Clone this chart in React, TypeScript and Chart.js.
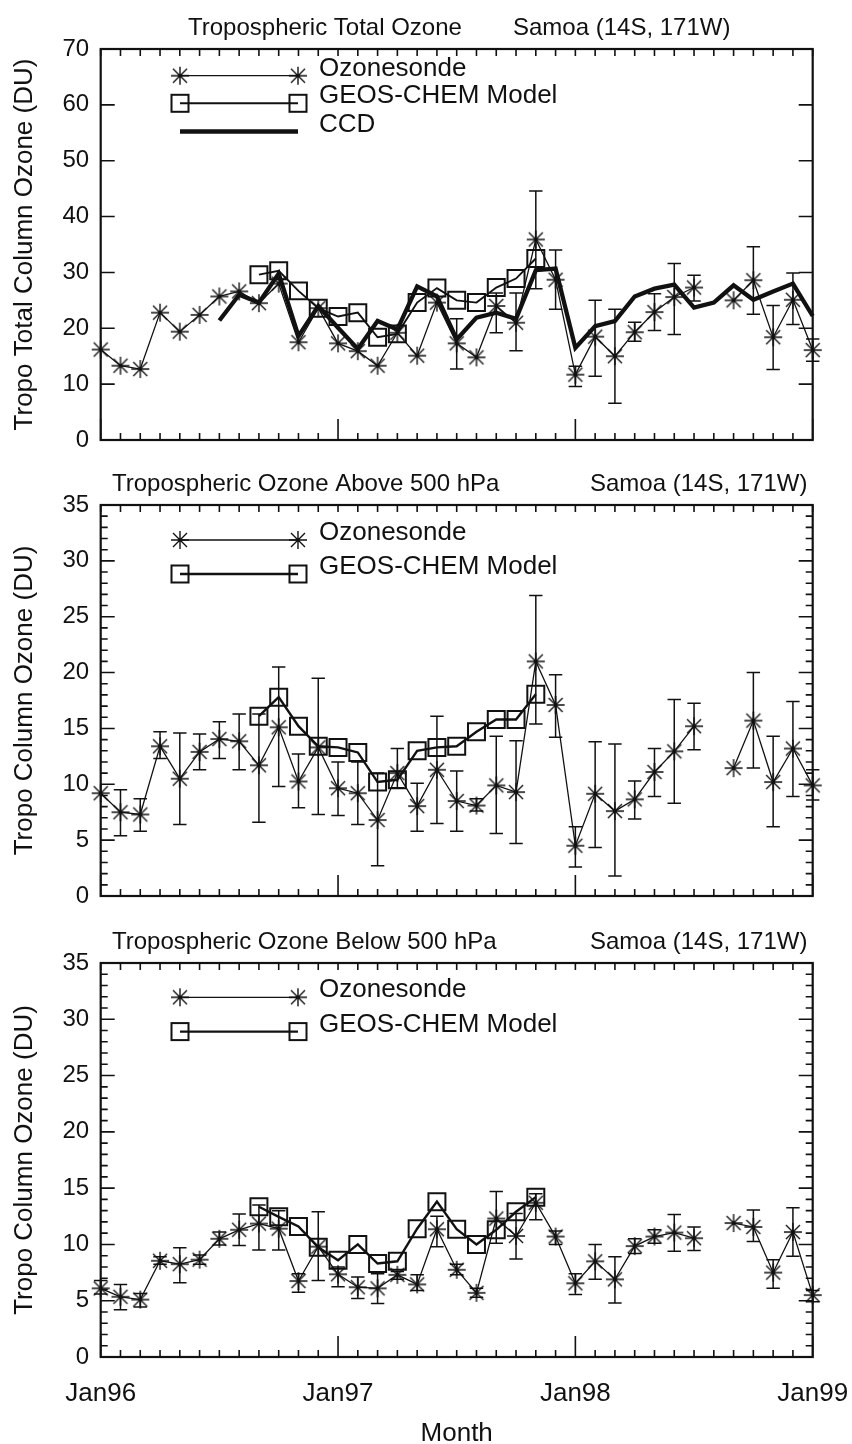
import { useEffect, useRef } from 'react';
import { Chart, registerables } from 'chart.js';

Chart.register(...registerables);

const INK = '#111111';
const FONT = '"Liberation Sans", Arial, Helvetica, sans-serif';

// ---------------- categories & tick labels ----------------
const monthLabels = [
  'Jan96', 'Feb96', 'Mar96', 'Apr96', 'May96', 'Jun96', 'Jul96', 'Aug96', 'Sep96', 'Oct96', 'Nov96', 'Dec96',
  'Jan97', 'Feb97', 'Mar97', 'Apr97', 'May97', 'Jun97', 'Jul97', 'Aug97', 'Sep97', 'Oct97', 'Nov97', 'Dec97',
  'Jan98', 'Feb98', 'Mar98', 'Apr98', 'May98', 'Jun98', 'Jul98', 'Aug98', 'Sep98', 'Oct98', 'Nov98', 'Dec98',
  'Jan99',
];
const xTickLabels = ['Jan96', 'Jan97', 'Jan98', 'Jan99'];
const totalYTicks = [0, 10, 20, 30, 40, 50, 60, 70];
const partYTicks = [0, 5, 10, 15, 20, 25, 30, 35];

// ---------------- panel 1: tropospheric total ozone ----------------
const totalSonde = [16.2, 13.3, 12.7, 22.8, 19.4, 22.4, 25.7, 26.6, 24.5, 28.0, 17.5, 23.6, 17.3, 15.9, 13.3, 19.2, 15.1, 24.6, 17.3, 14.8, 24.0, 21.0, 35.9, 28.7, 11.7, 18.5, 15.0, 19.3, 22.9, 25.6, 27.3, null, 25.0, 28.6, 18.4, 25.1, 16.1];
const totalSondeLow = [null, null, null, null, null, null, null, null, null, null, null, null, null, null, null, null, null, null, 12.7, null, 19.2, 16.0, 27.1, 23.4, 9.6, 11.4, 6.6, 17.7, 19.6, 18.9, 24.9, null, null, 22.5, 12.6, 20.7, 14.1];
const totalSondeHigh = [null, null, null, null, null, null, null, null, null, null, null, null, null, null, null, null, null, null, 21.7, null, 26.3, 26.3, 44.6, 34.0, 13.2, 25.0, 23.4, 21.1, 26.2, 31.6, 29.5, null, null, 34.6, 24.1, 29.9, 18.1];
const totalModel = [null, null, null, null, null, null, null, null, 29.6, 30.3, 26.7, 23.6, 22.1, 22.8, 18.4, 19.0, 24.6, 27.2, 25.0, 24.6, 27.3, 28.9, 32.5, null, null, null, null, null, null, null, null, null, null, null, null, null, null];
const totalCCD = [null, null, null, null, null, null, 21.4, 26.0, 24.6, 29.8, 18.6, 24.0, 20.1, 16.3, 21.3, 19.8, 27.5, 25.7, 18.0, 21.9, 22.8, 21.7, 30.4, 30.7, 16.5, 20.4, 21.3, 25.7, 27.1, 27.8, 23.7, 24.6, 27.7, 25.1, 26.6, 28.0, 22.2];

// ---------------- panel 2: above 500 hPa ----------------
const upperSonde = [9.2, 7.5, 7.3, 13.4, 10.5, 12.9, 14.05, 13.85, 11.7, 15.1, 10.25, 13.3, 9.65, 9.2, 6.8, 11.0, 8.05, 11.3, 8.5, 8.1, 9.9, 9.3, 21.0, 17.1, 4.5, 9.15, 7.6, 8.65, 11.1, 12.95, 15.2, null, 11.45, 15.7, 10.2, 13.2, 9.9];
const upperSondeLow = [null, 5.4, 5.8, 12.3, 6.4, 11.3, 12.3, 11.3, 6.6, 9.8, 7.9, 7.3, 7.2, 6.4, 2.7, 9.7, 5.8, 6.5, 5.8, 7.6, 5.6, 4.7, 15.4, 14.2, 2.6, 4.35, 1.8, 6.9, 8.9, 8.3, 13.1, null, null, 11.45, 6.2, 8.9, 8.6];
const upperSondeHigh = [null, 9.5, 8.7, 14.7, 14.6, 14.5, 15.6, 16.3, 16.3, 20.5, 12.7, 19.5, 12.0, 12.0, 11.0, 13.2, 10.1, 16.1, 11.2, 8.7, 14.3, 13.9, 26.9, 19.8, 6.2, 13.8, 13.6, 10.3, 13.2, 17.6, 17.25, null, null, 20.0, 14.3, 17.4, 11.3];
const upperModel = [null, null, null, null, null, null, null, null, 16.1, 17.8, 15.2, 13.4, 13.3, 12.85, 10.2, 10.4, 13.0, 13.3, 13.4, 14.7, 15.8, 15.8, 18.05, null, null, null, null, null, null, null, null, null, null, null, null, null, null];

// ---------------- panel 3: below 500 hPa ----------------
const lowerSonde = [6.1, 5.35, 5.1, 8.55, 8.25, 8.65, 10.5, 11.3, 11.85, 11.4, 6.75, 9.8, 7.35, 6.2, 6.1, 7.3, 6.45, 11.35, 7.75, 5.7, 12.3, 10.75, 13.7, 10.7, 6.55, 8.5, 6.9, 9.85, 10.7, 11.05, 10.55, null, 11.9, 11.55, 7.5, 11.1, 5.5];
const lowerSondeLow = [5.6, 4.2, 4.45, 8.25, 6.6, 8.25, 9.95, 9.9, 9.5, 9.5, 5.75, 6.8, 6.25, 5.2, 4.75, 6.9, 5.9, 9.8, 7.3, 5.3, 10.1, 8.7, 12.2, 10.0, 5.55, 6.9, 4.8, 9.2, 10.1, 9.4, 9.45, null, null, 10.25, 6.1, 8.95, 4.9];
const lowerSondeHigh = [6.8, 6.45, 5.65, 8.9, 9.7, 9.05, 11.1, 12.7, 13.5, 13.0, 7.4, 12.9, 8.0, 7.1, 7.4, 7.6, 7.3, 12.5, 8.25, 6.1, 14.7, 12.75, 14.5, 11.2, 7.4, 10.0, 8.9, 10.5, 11.3, 12.65, 11.55, null, null, 13.05, 8.65, 13.25, 5.9];
const lowerModel = [null, null, null, null, null, null, null, null, 13.35, 12.45, 11.6, 9.75, 8.6, 10.0, 8.3, 8.5, 11.4, 13.8, 11.35, 10.0, 11.3, 12.9, 14.2, null, null, null, null, null, null, null, null, null, null, null, null, null, null];

// ---------------- layout (pixels) ----------------
const W = 852;
const PLOT_LEFT = 100.7;
const PLOT_RIGHT = 812.7;
const LEG_X1 = 180;
const LEG_X2 = 298;
const LEG_TEXT_X = 319;
const CAP = 6.7;
const SONDE_W = 1.3;
const CCD_W = 4.3;

type Series = (number | null)[];
interface LegendRow { kind: 'sonde' | 'model' | 'ccd'; label: string; y: number }
interface PanelSpec {
  top: number; height: number; areaTop: number; areaBottom: number; xAxisHeight: number;
  yTicks: number[]; yMinorStep: number; yTitle: string;
  titleLeft: string; titleLeftX: number; titleRight: string; titleRightX: number; titleBaseline: number;
  sonde: Series; low: Series; high: Series; model: Series; ccd: Series | null;
  legend: LegendRow[]; showX: boolean; modelWidth: number;
}

const PANELS: PanelSpec[] = [
  {
    top: 0, height: 460, areaTop: 49, areaBottom: 440, xAxisHeight: 0,
    yTicks: totalYTicks, yMinorStep: 0, yTitle: 'Tropo Total Column Ozone (DU)',
    titleLeft: 'Tropospheric Total Ozone', titleLeftX: 188, titleRight: 'Samoa (14S, 171W)', titleRightX: 513, titleBaseline: 35,
    sonde: totalSonde, low: totalSondeLow, high: totalSondeHigh, model: totalModel, ccd: totalCCD,
    legend: [
      { kind: 'sonde', label: 'Ozonesonde', y: 75.7 },
      { kind: 'model', label: 'GEOS-CHEM Model', y: 103.3 },
      { kind: 'ccd', label: 'CCD', y: 131.5 },
    ],
    showX: false, modelWidth: 1.9,
  },
  {
    top: 460, height: 450, areaTop: 45, areaBottom: 438, xAxisHeight: 0,
    yTicks: partYTicks, yMinorStep: 1, yTitle: 'Tropo Column Ozone (DU)',
    titleLeft: 'Tropospheric Ozone Above 500 hPa', titleLeftX: 112, titleRight: 'Samoa (14S, 171W)', titleRightX: 590, titleBaseline: 31,
    sonde: upperSonde, low: upperSondeLow, high: upperSondeHigh, model: upperModel, ccd: null,
    legend: [
      { kind: 'sonde', label: 'Ozonesonde', y: 80 },
      { kind: 'model', label: 'GEOS-CHEM Model', y: 114 },
    ],
    showX: false, modelWidth: 2.4,
  },
  {
    top: 910, height: 534, areaTop: 53, areaBottom: 447, xAxisHeight: 87,
    yTicks: partYTicks, yMinorStep: 1, yTitle: 'Tropo Column Ozone (DU)',
    titleLeft: 'Tropospheric Ozone Below 500 hPa', titleLeftX: 112, titleRight: 'Samoa (14S, 171W)', titleRightX: 590, titleBaseline: 39,
    sonde: lowerSonde, low: lowerSondeLow, high: lowerSondeHigh, model: lowerModel, ccd: null,
    legend: [
      { kind: 'sonde', label: 'Ozonesonde', y: 87.3 },
      { kind: 'model', label: 'GEOS-CHEM Model', y: 121.6 },
    ],
    showX: true, modelWidth: 2.4,
  },
];

function makeAsterisk(): HTMLCanvasElement {
  const s = 20;
  const c = document.createElement('canvas');
  c.width = s; c.height = s;
  const g = c.getContext('2d')!;
  g.strokeStyle = INK;
  g.lineWidth = 1.4;
  const lo = 1, hi = s - 1, m = s / 2;
  g.beginPath();
  g.moveTo(lo, m); g.lineTo(hi, m);
  g.moveTo(m, lo); g.lineTo(m, hi);
  g.moveTo(lo + 2, lo + 2); g.lineTo(hi - 2, hi - 2);
  g.moveTo(hi - 2, lo + 2); g.lineTo(lo + 2, hi - 2);
  g.stroke();
  return c;
}

function decorPlugin(p: PanelSpec, star: HTMLCanvasElement) {
  return {
    id: 'panelDecor',
    beforeDatasetsDraw(chart: any) {
      const { ctx } = chart;
      const xs = chart.scales.x;
      const ys = chart.scales.y;
      ctx.save();
      ctx.strokeStyle = INK;
      ctx.lineWidth = 1.5;
      ctx.beginPath();
      p.low.forEach((lo, i) => {
        const hi = p.high[i];
        if (lo == null || hi == null) return;
        const px = xs.getPixelForValue(i);
        const a = ys.getPixelForValue(lo);
        const b = ys.getPixelForValue(hi);
        ctx.moveTo(px, a); ctx.lineTo(px, b);
        ctx.moveTo(px - CAP, a); ctx.lineTo(px + CAP, a);
        ctx.moveTo(px - CAP, b); ctx.lineTo(px + CAP, b);
      });
      ctx.stroke();
      ctx.restore();
    },
    afterDraw(chart: any) {
      const { ctx, chartArea: a } = chart;
      const xs = chart.scales.x;
      const ys = chart.scales.y;
      ctx.save();
      ctx.strokeStyle = INK;
      ctx.fillStyle = INK;
      // tick marks (inside the frame, all four sides)
      ctx.lineWidth = 1.6;
      ctx.beginPath();
      monthLabels.forEach((lab, i) => {
        const px = xs.getPixelForValue(i);
        const len = xTickLabels.includes(lab) ? 21 : 7;
        ctx.moveTo(px, a.bottom); ctx.lineTo(px, a.bottom - len);
        ctx.moveTo(px, a.top); ctx.lineTo(px, a.top + 7);
      });
      const yMax = p.yTicks[p.yTicks.length - 1];
      if (p.yMinorStep > 0) {
        for (let v = 0; v <= yMax; v += p.yMinorStep) {
          const py = ys.getPixelForValue(v);
          ctx.moveTo(a.left, py); ctx.lineTo(a.left + 7, py);
          ctx.moveTo(a.right, py); ctx.lineTo(a.right - 7, py);
        }
      }
      p.yTicks.forEach((v) => {
        const py = ys.getPixelForValue(v);
        ctx.moveTo(a.left, py); ctx.lineTo(a.left + 14, py);
        ctx.moveTo(a.right, py); ctx.lineTo(a.right - 14, py);
      });
      ctx.stroke();
      // frame
      ctx.lineWidth = 2.2;
      ctx.strokeRect(a.left, a.top, a.right - a.left, a.bottom - a.top);
      // panel titles
      ctx.font = `24px ${FONT}`;
      ctx.textAlign = 'left';
      ctx.textBaseline = 'alphabetic';
      ctx.fillText(p.titleLeft, p.titleLeftX, p.titleBaseline);
      ctx.fillText(p.titleRight, p.titleRightX, p.titleBaseline);
      // legend
      p.legend.forEach((row) => {
        ctx.beginPath();
        ctx.lineWidth = row.kind === 'ccd' ? CCD_W : row.kind === 'model' ? p.modelWidth : SONDE_W;
        ctx.moveTo(LEG_X1, row.y); ctx.lineTo(LEG_X2, row.y);
        ctx.stroke();
        if (row.kind === 'sonde') {
          ctx.drawImage(star, LEG_X1 - star.width / 2, row.y - star.height / 2);
          ctx.drawImage(star, LEG_X2 - star.width / 2, row.y - star.height / 2);
        } else if (row.kind === 'model') {
          ctx.lineWidth = 2;
          const h = 8.5;
          ctx.strokeRect(LEG_X1 - h, row.y - h, 2 * h, 2 * h);
          ctx.strokeRect(LEG_X2 - h, row.y - h, 2 * h, 2 * h);
        }
        ctx.font = `26px ${FONT}`;
        ctx.fillText(row.label, LEG_TEXT_X, row.y);
      });
      ctx.restore();
    },
  };
}

function buildConfig(p: PanelSpec, star: HTMLCanvasElement): any {
  const datasets: any[] = [];
  if (p.ccd) {
    datasets.push({
      label: 'CCD', data: p.ccd, borderColor: INK, borderWidth: CCD_W, pointRadius: 0,
      fill: false, tension: 0, clip: false, borderJoinStyle: 'miter',
    });
  }
  datasets.push({
    label: 'Ozonesonde', data: p.sonde, borderColor: INK, borderWidth: SONDE_W,
    pointStyle: star, pointRadius: 10, fill: false, tension: 0, clip: false,
  });
  datasets.push({
    label: 'GEOS-CHEM Model', data: p.model, borderColor: INK, borderWidth: p.modelWidth,
    pointStyle: 'rect', pointRadius: 12, pointBorderWidth: 2, pointBorderColor: INK,
    pointBackgroundColor: 'rgba(0,0,0,0)', fill: false, tension: 0, clip: false,
  });

  const yMax = p.yTicks[p.yTicks.length - 1];
  return {
    type: 'line',
    data: { labels: monthLabels, datasets },
    options: {
      responsive: false,
      animation: false,
      events: [],
      layout: {
        padding: {
          left: 0, right: W - PLOT_RIGHT, top: p.areaTop,
          bottom: p.height - p.areaBottom - p.xAxisHeight,
        },
      },
      plugins: { legend: { display: false }, tooltip: { enabled: false }, title: { display: false } },
      scales: {
        x: {
          type: 'category', offset: false,
          grid: { display: false, drawTicks: false }, border: { display: false },
          ticks: {
            display: p.showX, autoSkip: false, maxRotation: 0, minRotation: 0, padding: 21,
            color: INK, font: { family: FONT, size: 26 },
            callback: (_v: any, i: number) => (xTickLabels.includes(monthLabels[i]) ? monthLabels[i] : ''),
          },
          title: {
            display: p.showX, text: 'Month', color: INK,
            font: { family: FONT, size: 26, lineHeight: 0.6 }, padding: { top: 0, bottom: 2 },
          },
          afterFit: (s: any) => { s.height = p.xAxisHeight; s.paddingLeft = 0; s.paddingRight = 0; },
        },
        y: {
          type: 'linear', min: 0, max: yMax,
          grid: { display: false, drawTicks: false }, border: { display: false },
          afterBuildTicks: (s: any) => { s.ticks = p.yTicks.map((v) => ({ value: v })); },
          ticks: { color: INK, padding: 11.5, font: { family: FONT, size: 24 } },
          title: {
            display: true, text: p.yTitle, color: INK,
            font: { family: FONT, size: 26 }, padding: { top: 9, bottom: 0 },
          },
          afterFit: (s: any) => { s.width = PLOT_LEFT; s.paddingTop = 0; s.paddingBottom = 0; },
        },
      },
    },
    plugins: [decorPlugin(p, star)],
  };
}

export default function App() {
  const r1 = useRef<HTMLCanvasElement>(null);
  const r2 = useRef<HTMLCanvasElement>(null);
  const r3 = useRef<HTMLCanvasElement>(null);
  const refs = [r1, r2, r3];

  useEffect(() => {
    const star = makeAsterisk();
    const charts = refs.map((r, k) => new Chart(r.current as HTMLCanvasElement, buildConfig(PANELS[k], star)));
    return () => charts.forEach((c) => c.destroy());
  }, []);

  return (
    <div style={{ position: 'absolute', left: 0, top: 0, width: W, height: 1444, background: '#fff', overflow: 'hidden' }}>
      {PANELS.map((p, k) => (
        <canvas
          key={k}
          ref={refs[k]}
          width={W}
          height={p.height}
          style={{ position: 'absolute', left: 0, top: p.top, width: W, height: p.height, display: 'block' }}
        />
      ))}
    </div>
  );
}
